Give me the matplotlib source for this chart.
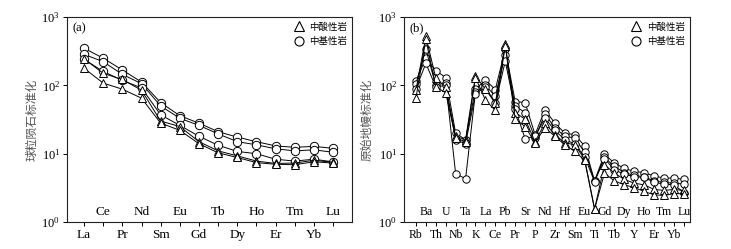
import matplotlib
matplotlib.use('Agg')
import matplotlib.pyplot as plt
from matplotlib.lines import Line2D
from matplotlib.ticker import LogLocator, NullLocator

plt.rcParams['font.family'] = ['Liberation Serif', 'Noto Sans CJK SC']
plt.rcParams['mathtext.fontset'] = 'custom'
plt.rcParams['mathtext.rm'] = 'Liberation Serif'

CJK = 'Noto Sans CJK SC'

# chondrite-normalised REE
ree = ['La', 'Ce', 'Pr', 'Nd', 'Sm', 'Eu', 'Gd', 'Tb', 'Dy', 'Ho', 'Er', 'Tm', 'Yb', 'Lu']
ree_mafic = [
    [350, 250, 168, 112, 56, 36, 28, 21, 17.5, 15, 13, 12.4, 12.8, 12],
    [285, 222, 145, 106, 50, 33, 26, 19.5, 15, 13.5, 11.8, 11, 11.4, 10.5],
    [240, 160, 118, 92, 37, 26, 18, 13.3, 10.8, 10, 8.3, 7.8, 8.3, 7.6],
]
ree_felsic = [
    [245, 150, 122, 85, 30, 25, 15, 11, 9.3, 7.8, 7.2, 7.3, 8.0, 7.5],
    [178, 108, 88, 65, 28, 22, 14, 10.3, 8.8, 7.4, 7.0, 6.9, 7.6, 7.3],
]

# primitive-mantle-normalised trace elements
trace = ['Rb', 'Ba', 'Th', 'U', 'Nb', 'Ta', 'K', 'La', 'Ce', 'Pb', 'Pr', 'Sr', 'P', 'Nd',
         'Zr', 'Hf', 'Sm', 'Eu', 'Ti', 'Gd', 'Tb', 'Dy', 'Y', 'Ho', 'Er', 'Tm', 'Yb', 'Lu']
trace_mafic = [
    [115, 250, 165, 130, 20, 16, 88, 120, 87, 340, 58, 56, 19, 44,
     28, 20, 19, 13, 4.0, 9.8, 7.3, 6.1, 5.5, 5.3, 4.7, 4.4, 4.4, 4.2],
    [105, 340, 100, 110, 5.1, 4.3, 80, 100, 70, 280, 50, 40, 17, 38,
     24, 18, 17, 10.5, 4.0, 8.8, 6.5, 5.3, 4.8, 4.6, 4.0, 3.8, 3.7, 3.6],
    [90, 210, 95, 100, 16, 14, 75, 95, 55, 225, 45, 16.6, 18, 33,
     22, 16, 14, 9, 3.9, 8.5, 5.8, 5.0, 4.6, 4.5, 3.8, 3.6, 3.5, 2.7],
]
trace_felsic = [
    [85, 520, 128, 95, 18, 16, 138, 88, 55, 400, 40, 32, 15, 28,
     19, 14.5, 13.5, 8.3, 1.55, 6.9, 5.2, 4.2, 3.7, 3.5, 3.0, 2.9, 3.0, 2.9],
    [65, 470, 95, 78, 17, 15, 130, 61, 43, 380, 32, 25, 14.5, 24,
     18, 13.5, 10.8, 8.0, 1.55, 5.2, 4.0, 3.5, 3.2, 2.8, 2.5, 2.45, 2.6, 2.6],
]

labels = ['中酸性岩', '中基性岩']


def draw_panel(ax, names, mafic, felsic, tag, ylabel, xlim, fs, ms, ylab_x):
    x = list(range(len(names)))
    for s in mafic:
        ax.plot(x, s, '-', color='black', lw=0.7, marker='o', ms=ms,
                mfc='white', mec='black', mew=0.7)
    for s in felsic:
        ax.plot(x, s, '-', color='black', lw=0.7, marker='^', ms=ms,
                mfc='white', mec='black', mew=0.7)
    ax.set_yscale('log')
    ax.set_ylim(1, 1000)
    ax.set_xlim(*xlim)
    ax.yaxis.set_major_locator(LogLocator(base=10, numticks=5))
    ax.yaxis.set_minor_locator(NullLocator())
    ax.tick_params(axis='y', direction='out', length=3, width=0.7, labelsize=9, pad=2)
    ax.set_xticks(x)
    ax.set_xticklabels([n if i % 2 == 0 else '' for i, n in enumerate(names)], fontsize=fs)
    ax.tick_params(axis='x', direction='out', length=3, width=0.7, pad=2)
    for i, n in enumerate(names):
        if i % 2 == 1:
            ax.text(i, 0.05, n, transform=ax.get_xaxis_transform(), ha='center',
                    va='center', fontsize=fs)
    for sp in ax.spines.values():
        sp.set_linewidth(0.8)
        sp.set_color('#222222')
    ax.text(0.02, 0.945, tag, transform=ax.transAxes, ha='left', va='center', fontsize=9)
    ax.set_ylabel(ylabel, family=CJK, fontsize=8.5, color='#555555')
    ax.yaxis.set_label_coords(ylab_x, 0.5)
    handles = [Line2D([], [], ls='none', marker='^', ms=6.5, mfc='white', mec='black', mew=0.8),
               Line2D([], [], ls='none', marker='o', ms=6.5, mfc='white', mec='black', mew=0.8)]
    ax.legend(handles, labels, loc='upper right', frameon=False, prop={'family': CJK, 'size': 6.8},
              handletextpad=0.6, handlelength=1.0, borderaxespad=0.15, labelspacing=0.55)


fig = plt.figure(figsize=(7.31, 2.49), dpi=100)
ax1 = fig.add_axes([0.0917, 0.1084, 0.390, 0.823])
ax2 = fig.add_axes([0.5527, 0.1084, 0.391, 0.823])

draw_panel(ax1, ree, ree_mafic, ree_felsic, '(a)', '球粒陨石标准化', (-0.89, 14.0), 9.5, 6.0, -0.100)
draw_panel(ax2, trace, trace_mafic, trace_felsic, '(b)', '原始地幔标准化', (-1.2, 27.6), 8.5, 5.3, -0.107)

fig.savefig('out.png', dpi=100)
